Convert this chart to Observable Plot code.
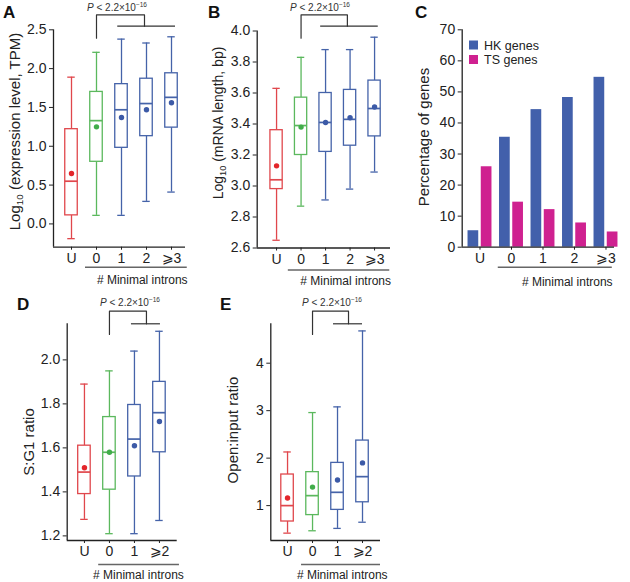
<!DOCTYPE html>
<html><head><meta charset="utf-8">
<script src="https://cdn.jsdelivr.net/npm/d3@7"></script>
<script src="https://cdn.jsdelivr.net/npm/@observablehq/plot@0.6"></script>
<style>
body{margin:0;background:#fff;}
#fig{position:relative;width:630px;height:582px;font-family:"Liberation Sans",Arial,sans-serif;}
#fig svg{position:absolute;}
</style></head><body><div id="fig"></div>
<script>
// ---------- DATA ----------
const catsA = ["U","0","1","2","⩾3"];
const groupsA = ["U","0","n","n","n"];
const hiA   = [1.89,2.21,2.38,2.33,2.41];
const q3A   = [1.22,1.70,1.80,1.87,1.94];
const medA  = [0.55,1.33,1.47,1.55,1.63];
const q1A   = [0.11,0.80,0.98,1.13,1.24];
const loA   = [-0.19,0.11,0.11,0.29,0.41];
const meanA = [0.65,1.25,1.37,1.47,1.56];

const catsB = ["U","0","1","2","⩾3"];
const groupsB = ["U","0","n","n","n"];
const hiB   = [3.63,3.83,3.88,3.88,3.96];
const q3B   = [3.36,3.57,3.60,3.62,3.68];
const medB  = [3.04,3.39,3.41,3.43,3.50];
const q1B   = [2.98,3.20,3.22,3.26,3.32];
const loB   = [2.65,2.87,2.91,2.98,3.09];
const meanB = [3.13,3.38,3.41,3.44,3.51];

const catsC = ["U","0","1","2","⩾3"];
const seriesC = ["HK genes","TS genes"];
const hkC = [5.3,35.4,44.3,48.2,54.7];
const tsC = [25.9,14.5,12.1,7.8,4.9];

const catsD = ["U","0","1","⩾2"];
const groupsD = ["U","0","n","n"];
const hiD   = [1.89,1.95,2.04,2.13];
const q3D   = [1.61,1.74,1.795,1.90];
const medD  = [1.49,1.58,1.64,1.76];
const q1D   = [1.39,1.41,1.47,1.58];
const loD   = [1.275,1.21,1.21,1.27];
const meanD = [1.51,1.58,1.61,1.72];

const catsE = ["U","0","1","⩾2"];
const groupsE = ["U","0","n","n"];
const hiE   = [2.13,2.96,3.08,4.68];
const q3E   = [1.655,1.705,1.90,2.37];
const medE  = [1.0,1.21,1.28,1.61];
const q1E   = [0.665,0.80,0.91,1.07];
const loE   = [0.42,0.47,0.52,0.65];
const meanE = [1.16,1.39,1.54,1.90];

const xTitle = "# Minimal introns";
const pLabel = ["P", " < 2.2×10", "−16"];

// ---------- STYLE ----------
const FONT = '"Liberation Sans", Arial, sans-serif';
const boxColors = {U:"#e0474c", "0":"#5bb85d", n:"#4563a9"};
const dotColors = {U:"#e3262b", "0":"#41ad4a", n:"#3c5aa7"};
const barColors = ["#4260ab","#cf2190"];

const fig = document.getElementById("fig");

function place(plot, left, top){
  plot.style.left = left + "px"; plot.style.top = top + "px";
  fig.appendChild(plot);
  return plot;
}

function commonMarks(cfg){
  const [y0,y1] = cfg.yDomain;
  const k = (y1-y0)/(cfg.height-cfg.mT-cfg.mB);
  const up = px => y1 + px*k;
  const marks = [
    Plot.ruleX([cfg.xDomain[0]], {stroke:"#222", strokeWidth:1.3}),
    Plot.ruleY([y0], {stroke:"#222", strokeWidth:1.3}),
    Plot.ruleY([y0], {x1:()=>cfg.ul[0], x2:()=>cfg.ul[1], dy:cfg.ulDy, stroke:"#666", strokeWidth:1.4}),
    Plot.text([{x:cfg.labX, t:xTitle}], {x:"x", text:"t", frameAnchor:"bottom", lineAnchor:"middle", dy:cfg.labDy, fontSize:12, fill:"#222"})
  ];
  const b = cfg.bracket;
  if (b) {
    marks.push(
      Plot.line([{x:b.x0,y:up(b.low)},{x:b.x0,y:up(b.top)},{x:b.xm,y:up(b.top)},{x:b.xm,y:up(b.mid)}],
        {x:"x", y:"y", stroke:"#333", strokeWidth:1.2}),
      Plot.ruleY([up(b.mid)], {x1:()=>b.xa, x2:()=>b.xb, stroke:"#333", strokeWidth:1.2})
    );
  }
  return marks;
}

function boxPanel(cfg){
  const rows = cfg.cats.map((c,i)=>({i, cat:c, lo:cfg.lo[i], q1:cfg.q1[i], med:cfg.med[i], q3:cfg.q3[i], hi:cfg.hi[i], mean:cfg.mean[i],
    color:boxColors[cfg.groups[i]], dot:dotColors[cfg.groups[i]]}));
  const hw = 0.25, cw = 0.15, sw = 1.3;
  const plot = Plot.plot({
    width:cfg.width, height:cfg.height,
    marginLeft:cfg.mL, marginRight:cfg.mR, marginTop:cfg.mT, marginBottom:cfg.mB,
    x:{domain:cfg.xDomain, ticks:rows.map(d=>d.i), tickFormat:i=>cfg.cats[i], tickSize:3, tickPadding:3, label:null},
    y:{domain:cfg.yDomain, ticks:cfg.yTicks, tickFormat:d3.format(cfg.yFmt), tickSize:4, tickPadding:3, label:null},
    color:{type:"identity"},
    style:{fontSize:"14px", fontFamily:FONT, background:"transparent", overflow:"visible", color:"#222"},
    marks:[
      ...commonMarks(cfg),
      Plot.ruleX(rows, {x:"i", y1:"lo", y2:"q1", stroke:"color", strokeWidth:sw}),
      Plot.ruleX(rows, {x:"i", y1:"q3", y2:"hi", stroke:"color", strokeWidth:sw}),
      Plot.ruleY(rows, {y:"lo", x1:d=>d.i-cw, x2:d=>d.i+cw, stroke:"color", strokeWidth:sw}),
      Plot.ruleY(rows, {y:"hi", x1:d=>d.i-cw, x2:d=>d.i+cw, stroke:"color", strokeWidth:sw}),
      Plot.rect(rows, {x1:d=>d.i-hw, x2:d=>d.i+hw, y1:"q1", y2:"q3", fill:"white", stroke:"color", strokeWidth:sw}),
      Plot.ruleY(rows, {y:"med", x1:d=>d.i-hw, x2:d=>d.i+hw, stroke:"color", strokeWidth:1.7}),
      Plot.dot(rows, {x:"i", y:"mean", fill:"dot", r:2.7})
    ]
  });
  return place(plot, cfg.left, cfg.top);
}

const panels = {};
panels.A = boxPanel({cats:catsA, groups:groupsA, hi:hiA, q3:q3A, med:medA, q1:q1A, lo:loA, mean:meanA,
  left:0, top:0, width:205, height:290, mL:53, mR:20, mT:29.3, mB:43.3,
  xDomain:[-0.72,4.56], yDomain:[-0.3,2.5], yTicks:[0,0.5,1,1.5,2,2.5], yFmt:".1f",
  bracket:{x0:1, xm:2.92, xa:1.85, xb:4.16, low:-8.4, top:15, mid:3.6},
  ul:[0.56,4.63], ulDy:20, labX:2.83, labDy:33});

panels.B = boxPanel({cats:catsB, groups:groupsB, hi:hiB, q3:q3B, med:medB, q1:q1B, lo:loB, mean:meanB,
  left:205, top:0, width:205, height:290, mL:51.7, mR:20, mT:30.5, mB:42.5,
  xDomain:[-0.79,4.65], yDomain:[2.6,4.0], yTicks:[2.6,2.8,3.0,3.2,3.4,3.6,3.8,4.0], yFmt:".1f",
  bracket:{x0:1, xm:2.89, xa:1.8, xb:4.15, low:-7.2, top:16.2, mid:4.8},
  ul:[0.48,4.62], ulDy:22, labX:2.82, labDy:33.5});

panels.D = boxPanel({cats:catsD, groups:groupsD, hi:hiD, q3:q3D, med:medD, q1:q1D, lo:loD, mean:meanD,
  left:0, top:290, width:205, height:292, mL:66.7, mR:28.3, mT:33.3, mB:42,
  xDomain:[-0.69,3.71], yDomain:[1.179,2.164], yTicks:[1.2,1.4,1.6,1.8,2.0], yFmt:".1f",
  bracket:{x0:1, xm:2.48, xa:1.88, xb:3.04, low:-10.7, top:12.6, mid:0},
  ul:[0.57,3.8], ulDy:24, labX:2.16, labDy:35});

panels.E = boxPanel({cats:catsE, groups:groupsE, hi:hiE, q3:q3E, med:medE, q1:q1E, lo:loE, mean:meanE,
  left:205, top:290, width:205, height:292, mL:65.3, mR:30, mT:33.3, mB:42,
  xDomain:[-0.67,3.72], yDomain:[0.265,4.83], yTicks:[1,2,3,4], yFmt:"d",
  bracket:{x0:1, xm:2.44, xa:1.84, xb:3.0, low:-10.7, top:12.6, mid:0},
  ul:[0.56,3.72], ulDy:24, labX:2.19, labDy:35});

// Panel C bars
(function(){
  const cfg = {left:410, top:0, width:220, height:290, mL:51.7, mR:16, mT:29.3, mB:43.3,
    xDomain:[-0.565,4.27], yDomain:[0,70], ul:[0.58,4.2], ulDy:20, labX:2.77, labDy:35};
  const off = [-0.21, 0.21], bw = 0.34;
  const rows = [];
  catsC.forEach((c,i)=>{
    rows.push({i, s:0, v:hkC[i], color:barColors[0]});
    rows.push({i, s:1, v:tsC[i], color:barColors[1]});
  });
  const plot = Plot.plot({
    width:cfg.width, height:cfg.height,
    marginLeft:cfg.mL, marginRight:cfg.mR, marginTop:cfg.mT, marginBottom:cfg.mB,
    x:{domain:cfg.xDomain, ticks:catsC.map((c,i)=>i), tickFormat:i=>catsC[i], tickSize:3, tickPadding:3, label:null},
    y:{domain:cfg.yDomain, ticks:[0,10,20,30,40,50,60,70], tickSize:4, tickPadding:3, label:null},
    color:{type:"identity"},
    style:{fontSize:"14px", fontFamily:FONT, background:"transparent", overflow:"visible", color:"#222"},
    marks:[
      Plot.rect(rows, {x1:d=>d.i+off[d.s]-bw/2, x2:d=>d.i+off[d.s]+bw/2, y1:()=>0, y2:"v", fill:"color"}),
      ...commonMarks(cfg)
    ]
  });
  panels.C = place(plot, cfg.left, cfg.top);
})();

// ---------- OVERLAY TEXT ----------
const ov = d3.select("#fig").append("svg").attr("width",630).attr("height",582)
  .style("left","0px").style("top","0px").style("pointer-events","none")
  .style("font-family", FONT);

[["A",3,18],["B",208,18],["C",415,18],["D",17,310],["E",220,310]].forEach(([t,x,y])=>{
  ov.append("text").attr("x",x).attr("y",y).attr("font-size",17).attr("font-weight","bold").attr("fill","#111").text(t);
});

function yTitle(x, y, parts, fs){
  const t = ov.append("text").attr("transform",`translate(${x},${y}) rotate(-90)`)
    .attr("text-anchor","middle").attr("font-size",fs).attr("fill","#222");
  parts.forEach(p=>{
    if (p.sub) t.append("tspan").attr("font-size",fs*0.66).attr("dy",fs*0.25).text(p.t);
    else t.append("tspan").attr("dy", p.after ? -fs*0.25 : 0).text(p.t);
  });
}
yTitle(19.5,131.5,[{t:"Log"},{t:"10",sub:true},{t:" (expression level, TPM)",after:true}],15);
yTitle(222.5,123,[{t:"Log"},{t:"10",sub:true},{t:" (mRNA length, bp)",after:true}],14);
yTitle(428.5,137,[{t:"Percentage of genes"}],15);
yTitle(34,442,[{t:"S:G1 ratio"}],15);
yTitle(238,430,[{t:"Open:input ratio"}],15);

function pText(x, y){
  const t = ov.append("text").attr("x",x).attr("y",y).attr("font-size",10).attr("fill","#333");
  t.append("tspan").attr("font-style","italic").text(pLabel[0]);
  t.append("tspan").text(pLabel[1]);
  t.append("tspan").attr("font-size",6.5).attr("dy",-4).text(pLabel[2]);
}
pText(87,10.5); pText(290,10.5); pText(100,306); pText(302,306);

// legend for C
seriesC.forEach((s,j)=>{
  const cy = 45 + j*14.5;
  ov.append("rect").attr("x",469).attr("y",cy-4.5).attr("width",9).attr("height",9).attr("fill",barColors[j]);
  ov.append("text").attr("x",484).attr("y",cy+4.5).attr("font-size",12.5).attr("fill","#222").text(s);
});
</script></body></html>
